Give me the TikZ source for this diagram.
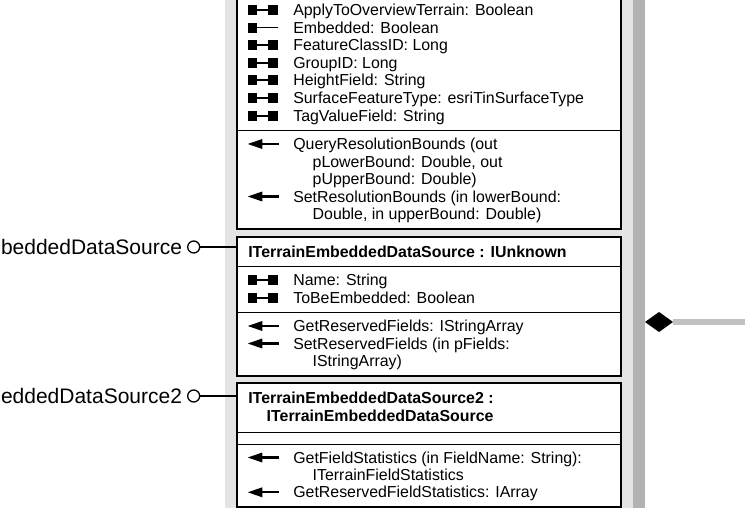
\documentclass[tikz,border=0pt]{standalone}
\usepackage{fontspec}
\setmainfont{Liberation Sans}
\usetikzlibrary{shapes.geometric}
\definecolor{panel}{HTML}{E4E4E4}
\definecolor{strip}{HTML}{B2B2B2}
\definecolor{linkgrey}{HTML}{C0C0C0}
\tikzset{
  every node/.style={inner sep=0pt, outer sep=0pt},
  txt/.style={anchor=base west, font=\fontsize{15.9}{17.5}\selectfont},
  ttl/.style={anchor=base west, font=\fontsize{15.9}{17.5}\selectfont\bfseries},
  lbl/.style={anchor=base east, font=\fontsize{21}{24}\selectfont},
  umlbox/.style={draw=black, line width=1.8pt, fill=white, anchor=north west, minimum width=384pt},
  sepline/.style={line width=0.9pt},
  lolly/.style={circle, draw=black, line width=1.3pt, fill=white, minimum size=12pt},
  lollyline/.style={line width=1.2pt},
  prop/.pic={\fill (-15,-5) rectangle (-5.5,5); \fill (5.5,-5) rectangle (15,5); \draw[line width=2pt] (-6,0) -- (6,0);},
  wonly/.pic={\fill (-15,-5) rectangle (-5.5,5); \draw[line width=1.3pt] (-6,0) -- (15,0);},
  meth/.pic={\fill (-15,0) -- (-0.5,-5) -- (-0.5,5) -- cycle; \draw[line width=2.2pt] (-2,0) -- (15.8,0);},
}
\begin{document}
\begin{tikzpicture}[x=1pt,y=-1pt]
\useasboundingbox (0,0) rectangle (745,508);
\begin{scope}
\clip (0,0) rectangle (745,508);
% background panel
\fill[panel] (225,-2) rectangle (633,510);
\fill[strip] (633,-2) rectangle (645,510);

% boxes
\node[umlbox, minimum height=239pt] (box1) at (236.7,-10) {};
\node[umlbox, minimum height=138.5pt] (box2) at (236.7,237.3) {};
\node[umlbox, minimum height=123.5pt] (box3) at (236.7,383.3) {};

% separators
\draw[sepline] (box1.west |- 0,130.7) -- (box1.east |- 0,130.7);
\draw[sepline] (box2.west |- 0,266) -- (box2.east |- 0,266);
\draw[sepline] (box2.west |- 0,312.6) -- (box2.east |- 0,312.6);
\draw[sepline] (box3.west |- 0,432.7) -- (box3.east |- 0,432.7);
\draw[sepline] (box3.west |- 0,444) -- (box3.east |- 0,444);

% box 1 attributes
\pic at (262.8,10) {prop};
\node[txt] (a1) at (293.3,15.6) {ApplyToOverviewTerrain: Boolean};
\pic at (262.8,27.6) {wonly};
\node[txt] (a2) at (293.3,33.2) {Embedded: Boolean};
\pic at (262.8,45.2) {prop};
\node[txt] (a3) at (293.3,50.8) {FeatureClassID: Long};
\pic at (262.8,62.8) {prop};
\node[txt] (a4) at (293.3,68.4) {GroupID: Long};
\pic at (262.8,80.4) {prop};
\node[txt] (a5) at (293.3,86) {HeightField: String};
\pic at (262.8,98) {prop};
\node[txt] (a6) at (293.3,103.6) {SurfaceFeatureType: esriTinSurfaceType};
\pic at (262.8,115.6) {prop};
\node[txt] (a7) at (293.3,121.2) {TagValueField: String};

% box 1 methods
\pic at (262.8,144) {meth};
\node[txt] (m1) at (293.3,149.6) {QueryResolutionBounds (out};
\node[txt] (m1b) at (312.7,167.1) {pLowerBound: Double, out};
\node[txt] (m1c) at (312.7,184.6) {pUpperBound: Double)};
\pic at (262.8,196.5) {meth};
\node[txt] (m2) at (293.3,202.1) {SetResolutionBounds (in lowerBound:};
\node[txt] (m2b) at (312.7,219.6) {Double, in upperBound: Double)};

% box 2
\node[ttl] (t2) at (248.3,257.5) {ITerrainEmbeddedDataSource : IUnknown};
\pic at (262.8,280) {prop};
\node[txt] (b1) at (293.3,285.6) {Name: String};
\pic at (262.8,297.5) {prop};
\node[txt] (b2) at (293.3,303.1) {ToBeEmbedded: Boolean};
\pic at (262.8,326) {meth};
\node[txt] (bm1) at (293.3,331.6) {GetReservedFields: IStringArray};
\pic at (262.8,343.5) {meth};
\node[txt] (bm2) at (293.3,349.1) {SetReservedFields (in pFields:};
\node[txt] (bm2b) at (312.7,366.6) {IStringArray)};

% box 3
\node[ttl] (t3) at (248.3,403.5) {ITerrainEmbeddedDataSource2 :};
\node[ttl] (t3b) at (266.7,421.5) {ITerrainEmbeddedDataSource};
\pic at (262.8,457.5) {meth};
\node[txt] (cm1) at (293.3,463.1) {GetFieldStatistics (in FieldName: String):};
\node[txt] (cm1b) at (312.7,480.6) {ITerrainFieldStatistics};
\pic at (262.8,492.3) {meth};
\node[txt] (cm2) at (293.3,497.9) {GetReservedFieldStatistics: IArray};

% lollipops
\node[lolly] (l1) at (193.7,247) {};
\node[lolly] (l2) at (193.7,396) {};
\draw[lollyline] (l1.east) -- (l1 -| box2.west);
\draw[lollyline] (l2.east) -- (l2 -| box3.west);
\node[lbl] (n1) at (182,254.5) {beddedDataSource};
\node[lbl] (n2) at (182,403.5) {eddedDataSource2};

% aggregation diamond
\node[diamond, fill=black, minimum width=28pt, minimum height=20pt] (agg) at (659,322) {};
\coordinate (rend) at (746,322);
\draw[linkgrey, line width=5.4pt] (agg.east) -- (rend);
\end{scope}
\end{tikzpicture}
\end{document}
